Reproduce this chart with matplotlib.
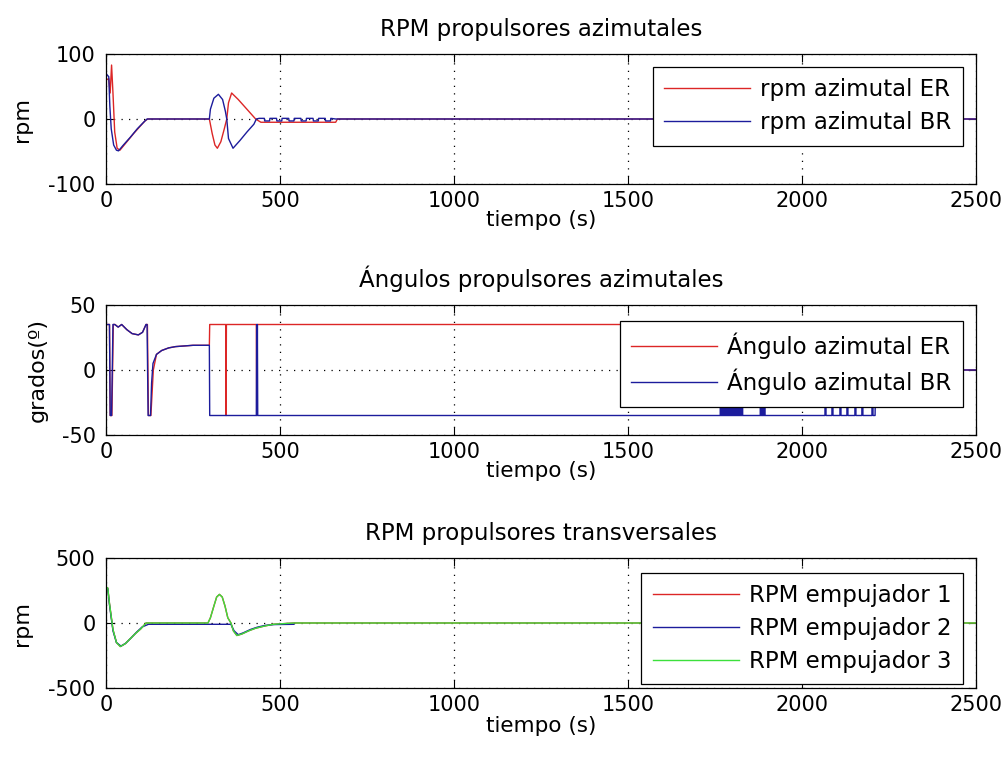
import numpy as np
import matplotlib.pyplot as plt
from matplotlib.ticker import FixedLocator

plt.rcParams['font.family'] = ['DejaVu Sans']
plt.rcParams['axes.unicode_minus'] = False

# ---- RPM propulsores azimutales ----
t_rpm_er = [0, 8, 12, 16, 20, 25, 32, 40, 60, 80, 100, 112, 120, 297, 305, 313, 320,
            330, 340, 347, 352, 361, 380, 400, 420, 430, 445, 660, 665, 2500]
rpm_er = [60, 62, 40, 83, 40, -20, -45, -48, -35, -22, -10, -3, 0, 0, -22, -40, -45,
          -35, -15, 0, 25, 40, 30, 18, 6, 0, -5, -5, 0, 0]

t_rpm_br = [0, 3, 8, 11, 15, 22, 30, 36, 50, 70, 90, 110, 118, 297, 300, 310, 323, 335,
            343, 347, 352, 365, 385, 405, 425, 432, 440,
            455, 456, 470, 471, 490, 491, 505, 506, 525, 526, 540, 541, 560, 561,
            575, 576, 595, 596, 610, 611, 630, 631, 645, 646, 660, 2500]
rpm_br = [70, 68, 65, 20, -15, -40, -48, -49, -40, -28, -15, -4, 0, 0, 15, 32, 38, 30,
          12, 0, -30, -45, -33, -20, -8, 0, 1,
          1, -3, -3, 1, 1, -3, -3, 1, 1, -3, -3, 1, 1, -3,
          -3, 1, 1, -3, -3, 1, 1, -3, -3, 1, 0, 0]

# ---- Ángulos propulsores azimutales ----
t_ang_er = [0, 10, 12, 17, 21, 26, 35, 45, 60, 75, 93, 105, 115, 119, 122, 129, 132, 136,
            145, 160, 180, 200, 250, 297, 298, 344, 345, 346, 432, 433, 434, 2210, 2212, 2500]
ang_er = [35, 35, -35, -35, 35, 35, 33, 35, 31, 28, 27, 29, 35, 35, -35, -35, -20, 0,
          12, 15, 17, 18, 19, 19, 35, 35, -35, 35, 35, -35, 35, 35, 0, 0]

t_ang_br = [0, 10, 12, 16, 20, 25, 35, 45, 60, 75, 93, 105, 115, 118, 121, 128, 131, 135,
            145, 160, 180, 200, 250, 297, 298, 432, 433, 434, 435, 436, 437]
ang_br = [35, 35, -35, -35, 35, 35, 33, 35, 31, 28, 27, 29, 35, 35, -35, -35, -10, 5,
          12, 15, 17, 18, 19, 19, -35, -35, 35, -35, 35, -35, -35]
# chattering of the BR angle between 1765 and 2200 s
br_chatter_up = [1765, 1768, 1771, 1774, 1777, 1780, 1783, 1786, 1789, 1792, 1795,
                 1798, 1801, 1804, 1807, 1810, 1813, 1816, 1819, 1822, 1825, 1828,
                 1880, 1884, 1888, 1892, 2066, 2086, 2109, 2129, 2152, 2172, 2201]
br_chatter_len = [1.5] * 22 + [1.5] * 4 + [3, 3, 3, 3, 3, 3, 3]
for tu, dl in zip(br_chatter_up, br_chatter_len):
    t_ang_br += [tu, tu, tu + dl, tu + dl]
    ang_br += [-35, 35, 35, -35]
t_ang_br += [2210, 2212, 2500]
ang_br += [-35, 0, 0]

# ---- RPM propulsores transversales ----
t_tr3 = [0, 5, 10, 20, 30, 41, 55, 70, 85, 100, 115, 293, 300, 310, 318, 326, 334, 342,
         350, 359, 366, 376, 390, 410, 430, 453, 480, 540, 2500]
rpm_tr3 = [275, 270, 150, -50, -150, -181, -160, -120, -80, -45, 0, 0, 40, 130, 200, 220,
           200, 130, 40, 0, -60, -96, -85, -60, -40, -25, -10, 0, 0]
t_tr2 = [0, 5, 10, 20, 30, 43, 57, 72, 88, 104, 122, 293, 359, 368, 380, 395, 415, 435,
         458, 485, 540]
rpm_tr2 = [270, 265, 140, -60, -150, -178, -155, -115, -70, -30, -10, -10, -10, -60,
           -90, -75, -50, -32, -18, -12, -10]
t_tr1 = t_tr3
rpm_tr1 = rpm_tr3

red = '#dc2626'
blue = '#1c1c9c'
green = '#3ce03c'

W, H = 1007, 760
fig = plt.figure(figsize=(W / 100, H / 100), dpi=100)
fig.patch.set_facecolor('white')

left, width = 106 / W, 870 / W
rows = [(54, 184), (305, 435), (558, 688)]
axes = [fig.add_axes([left, 1 - b / H, width, (b - t) / H]) for t, b in rows]


def style(ax, ylim, yticks, title, ylabel, ylab_x, xlab_off=36):
    ax.set_xlim(0, 2500)
    ax.set_ylim(*ylim)
    ax.xaxis.set_major_locator(FixedLocator([0, 500, 1000, 1500, 2000, 2500]))
    ax.yaxis.set_major_locator(FixedLocator(yticks))
    ax.tick_params(direction='in', top=True, right=True, length=6, width=0.8,
                   labelsize=15)
    ax.tick_params(axis='x', pad=5)
    ax.tick_params(axis='y', pad=7.5)
    ax.grid(True, color='black', linestyle=(0, (1, 5)), linewidth=0.9)
    for s in ax.spines.values():
        s.set_linewidth(0.9)
    ax.set_title(title, fontsize=16.5, pad=13)
    ax.set_xlabel('tiempo (s)', fontsize=15.5, va='center')
    ax.xaxis.set_label_coords(0.5, -xlab_off / 130)
    ax.set_ylabel(ylabel, fontsize=16)
    ax.yaxis.set_label_coords((ylab_x - 106) / 870, 0.5)


def legend(ax, x0, y0):
    lg = ax.legend(loc='upper right', bbox_to_anchor=(x0 / W, 1 - y0 / H),
                   bbox_transform=fig.transFigure, borderaxespad=0, fancybox=False,
                   framealpha=1, edgecolor='black', fontsize=16.5, handlelength=3.75,
                   handletextpad=0.45, labelspacing=0.42, borderpad=0.5)
    lg.get_frame().set_linewidth(0.9)
    return lg


ax = axes[0]
ax.plot(t_rpm_er, rpm_er, color=red, lw=1.0, label='rpm azimutal ER')
ax.plot(t_rpm_br, rpm_br, color=blue, lw=1.0, label='rpm azimutal BR')
style(ax, (-100, 100), [-100, 0, 100], 'RPM propulsores azimutales', 'rpm', 32)
legend(ax, 963, 67)

ax = axes[1]
ax.plot(t_ang_er, ang_er, color=red, lw=1.0, label='Ángulo azimutal ER')
ax.plot(t_ang_br, ang_br, color=blue, lw=1.0, label='Ángulo azimutal BR')
style(ax, (-50, 50), [-50, 0, 50], 'Ángulos propulsores azimutales', 'grados(º)', 48)
legend(ax, 963, 321)

ax = axes[2]
ax.plot(t_tr1, rpm_tr1, color=red, lw=1.0, label='RPM empujador 1')
ax.plot(t_tr2, rpm_tr2, color=blue, lw=1.0, label='RPM empujador 2')
ax.plot(t_tr3, rpm_tr3, color=green, lw=1.0, label='RPM empujador 3')
style(ax, (-500, 500), [-500, 0, 500], 'RPM propulsores transversales', 'rpm', 32,
      xlab_off=38)
legend(ax, 963, 573)

fig.savefig('out.png', dpi=100)
